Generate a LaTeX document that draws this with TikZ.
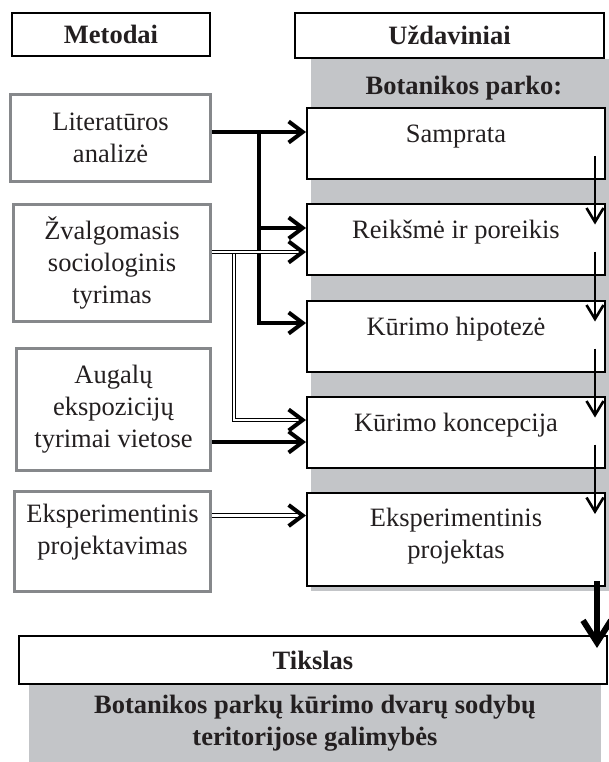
\documentclass[tikz,border=0pt]{standalone}
\usepackage{fontspec}
\setmainfont{Liberation Serif}
\usetikzlibrary{arrows.meta,decorations.markings}

\definecolor{panelgray}{RGB}{195,197,200}
\definecolor{framegray}{RGB}{134,136,139}
\definecolor{inkgray}{RGB}{35,31,32}

% lifts a block of lines without changing its box
\newcommand{\lift}[2]{\raisebox{#1}[\height][\depth]{\begin{tabular}{@{}c@{}}#2\end{tabular}}}

\tikzset{
  every node/.style={font=\fontsize{26.5}{32}\selectfont, text=inkgray, inner sep=0pt},
  headbox/.style={draw, line width=2pt, fill=white, font=\fontsize{26.5}{32}\selectfont\bfseries},
  methodbox/.style={draw=framegray, line width=3pt, fill=white, align=center},
  taskbox/.style={draw, line width=2pt, fill=white, minimum width=298pt, minimum height=71pt},
  link/.style={line width=4pt, -{Straight Barb[length=14pt,width=21pt]}},
  dlink/.style={double, double distance=2.4pt, line width=1pt, shorten >=4pt,
    postaction={decorate, decoration={markings,
      mark=at position 1 with {\arrow[line width=4pt]{Straight Barb[length=14pt,width=21pt]}}}}},
  flow/.style={line width=2.6pt, -{Straight Barb[length=14pt,width=17pt]}},
  bigflow/.style={line width=6pt, -{Straight Barb[length=22pt,width=28pt]}}
}

\begin{document}
\begin{tikzpicture}[x=1pt,y=-1pt]
\useasboundingbox (0,0) rectangle (609,762);

% gray backgrounds
\fill[panelgray] (311,59) rectangle (609,591);
\fill[panelgray] (29,685) rectangle (601,762);

% headings
\node[headbox, minimum width=198pt, minimum height=43pt] (metodai) at (111,34.5) {Metodai};
\node[headbox, minimum width=309pt, minimum height=45pt] (uzd) at (449.5,35.5) {Uždaviniai};
\node[font=\fontsize{26.5}{32}\selectfont\bfseries, anchor=base] (parko) at (464,95) {Botanikos parko:};

% methods
\node[methodbox, minimum width=200pt, minimum height=87pt] (lit) at (110.5,138) {Literatūros\\analizė};
\node[methodbox, minimum width=197pt, minimum height=117pt] (zval) at (112,263) {Žvalgomasis\\sociologinis\\tyrimas};
\node[methodbox, minimum width=194pt, minimum height=122pt] (aug) at (113.5,409.5) {Augalų\\ekspozicijų\\tyrimai vietose};
\node[methodbox, minimum width=196pt, minimum height=100pt] (expm) at (112.5,541.5) {\lift{9pt}{Eksperimentinis\\projektavimas}};

% tasks
\node[taskbox] (samp) at (456,143.5) {\lift{7pt}{Samprata}};
\node[taskbox] (reik) at (456,239) {\lift{7pt}{Reikšmė ir poreikis}};
\node[taskbox] (hip) at (456,336) {\lift{7pt}{Kūrimo hipotezė}};
\node[taskbox] (konc) at (456,432) {\lift{7pt}{Kūrimo koncepcija}};
\node[taskbox, minimum height=93pt] (expp) at (456,539.5) {\lift{3pt}{Eksperimentinis\\projektas}};

% goal
\node[headbox, minimum width=588pt, minimum height=48pt] (tiks) at (313,660) {Tikslas};
\node[font=\fontsize{26.5}{32}\selectfont\bfseries, align=center] (goal) at (315,723) {Botanikos parkų kūrimo dvarų sodybų\\teritorijose galimybės};

% connectors
\coordinate (litfork) at (259,132);
\coordinate (zvfork) at (234,252);
\draw[link] ([yshift=6pt]lit.east) -- ([yshift=6pt]lit.east -| samp.west);
\draw[link] ([yshift=11pt]reik.west -| litfork) -- ([yshift=11pt]reik.west);
\draw[link] (litfork) |- ([yshift=13pt]hip.west);
\draw[dlink] (zvfork) |- ([yshift=12pt]konc.west);
\draw[dlink] ([yshift=11pt]zval.east) -- ([yshift=11pt]zval.east -| reik.west);
\draw[link] ([yshift=-10pt]konc.west -| aug.east) -- ([yshift=-10pt]konc.west);
\draw[dlink] ([yshift=26pt]expm.east) -- ([yshift=26pt]expm.east -| expp.west);

\foreach \a/\b in {samp/reik, reik/hip, hip/konc, konc/expp}
  \draw[flow] ([xshift=-11pt,yshift=24pt]\a.south east) -- ([xshift=-11pt,yshift=-22pt]\b.north east);
\draw[bigflow] ([xshift=-9pt,yshift=6pt]expp.south east) -- ([xshift=-9pt,yshift=-13pt]tiks.north -| expp.south east);
\end{tikzpicture}
\end{document}
